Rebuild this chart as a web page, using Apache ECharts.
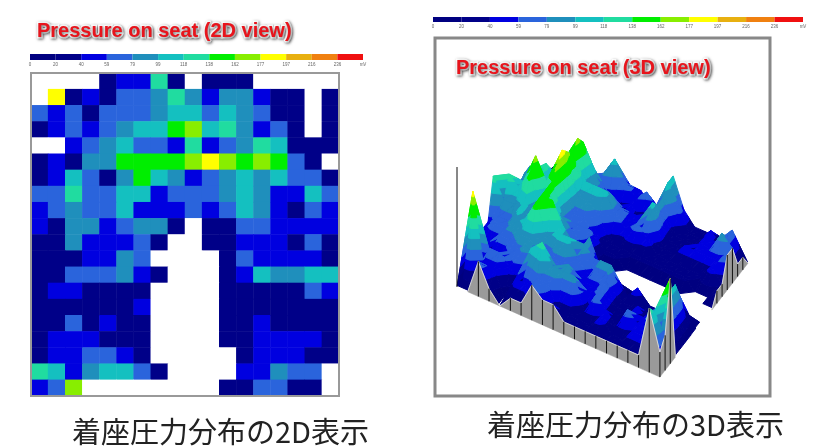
<!DOCTYPE html>
<html><head><meta charset="utf-8">
<script src="https://cdn.jsdelivr.net/npm/echarts@6/dist/echarts.min.js"></script>
<style>html,body{margin:0;padding:0;background:#fff}#c{width:820px;height:446px}</style>
</head><body><div id="c"></div>
<script>
// Pressure read from each seat cell (mV); 0 = no contact (white)
const pressure = [
[0,0,0,0,25,50,50,128,25,0,25,25,25,0,0,0,0,0],
[0,187,25,50,25,70,70,90,128,90,50,90,90,50,25,25,0,25],
[70,50,70,25,70,70,70,90,108,108,70,108,90,70,25,25,0,25],
[25,50,70,50,70,90,108,108,150,170,108,128,90,50,70,25,0,25],
[0,0,50,70,90,108,70,70,50,128,50,70,90,128,108,25,25,25],
[25,50,25,90,90,150,150,150,150,170,187,170,150,170,150,70,25,0],
[25,50,108,70,25,90,150,108,90,50,70,90,108,90,108,70,70,25],
[70,70,128,70,70,108,108,50,70,70,70,90,108,90,50,50,108,70],
[50,70,90,70,70,108,50,50,50,70,50,70,108,90,50,25,70,50],
[50,25,90,90,50,70,90,90,25,0,25,25,70,70,50,50,50,50],
[25,25,90,50,50,50,70,25,0,0,25,25,50,50,50,25,70,25],
[25,25,25,50,50,90,70,0,0,0,0,25,70,50,50,50,50,25],
[25,25,70,70,70,90,50,25,0,0,0,25,50,108,90,90,108,108],
[25,50,50,25,25,25,25,0,0,0,0,25,25,25,25,25,70,50],
[25,25,25,25,25,25,50,0,0,0,0,25,25,25,25,25,25,25],
[25,25,70,25,50,25,25,0,0,0,0,25,25,50,25,25,25,25],
[25,50,50,50,25,25,25,0,0,0,0,25,25,50,50,50,50,25],
[25,50,50,70,70,50,25,0,0,0,0,0,25,50,50,50,25,25],
[128,108,50,90,108,108,70,25,0,0,0,0,50,50,90,70,70,0],
[50,70,170,0,0,0,0,0,0,0,0,25,25,70,70,25,25,0]
];
const tickLabels = ['0','20','40','59','79','99','118','138','162','177','197','216','236','mV'];
const bandEdges = [0,20,40,59,79,99,118,138,162,177,197,216,236,256];
const bandColors = ['#000080','#000088','#0000e0','#2a64dc','#1f8fbc','#14c0c0','#20dca0','#00ee00','#88ee00','#ffff00','#e8b010','#f08010','#f01010'];
const noContactBelow = 3;

const rows = pressure.length, cols = pressure[0].length;
const rowNames = pressure.map((_, i) => 'r' + i);
const colNames = pressure[0].map((_, i) => 'c' + i);
const heatData = [];
pressure.forEach((r, y) => r.forEach((v, x) => heatData.push([x, y, v])));

// oblique view used for the 3D panel: (row, col, value) -> panel units
function project(row, col, value) {
  return [22 + 10.68 * row + 5.18 * col, 249 + 4.74 * row - 6.7 * col - 0.5 * value];
}
function clip(poly, level, keepAbove) {
  const out = [];
  for (let i = 0; i < poly.length; i++) {
    const a = poly[i], b = poly[(i + 1) % poly.length];
    const ia = keepAbove ? a[2] >= level : a[2] <= level;
    const ib = keepAbove ? b[2] >= level : b[2] <= level;
    if (ia) out.push(a);
    if (ia !== ib) {
      const t = (level - a[2]) / (b[2] - a[2]);
      out.push([a[0] + t * (b[0] - a[0]), a[1] + t * (b[1] - a[1]), level]);
    }
  }
  return out;
}
const quads = [];
for (let c = cols - 2; c >= 0; c--) for (let r = 0; r < rows - 1; r++) quads.push([r, c]);

function surfaceItem(params, api) {
  const r = api.value(0), c = api.value(1);
  const P = (a, b) => [a, b, pressure[a][b]];
  const tris = [[P(r, c), P(r + 1, c), P(r + 1, c + 1)], [P(r, c), P(r + 1, c + 1), P(r, c + 1)]];
  const children = [];
  tris.forEach(tri => {
    bandColors.forEach((color, i) => {
      const lo = i === 0 ? noContactBelow : bandEdges[i], hi = bandEdges[i + 1];
      let poly = clip(tri, lo, true);
      if (poly.length > 2) poly = clip(poly, hi, false);
      if (poly.length > 2) children.push({
        type: 'polygon', silent: true,
        shape: { points: poly.map(p => api.coord(project(p[0], p[1], p[2]))) },
        style: { fill: color, stroke: color, lineWidth: 1, lineJoin: 'round' }
      });
    });
  });
  return { type: 'group', children };
}
// skirts along the two front edges
const skirtEdges = [];
for (let r = 0; r < rows - 1; r++) skirtEdges.push([r, 0, r + 1, 0]);
for (let c = 0; c < cols - 1; c++) skirtEdges.push([rows - 1, c, rows - 1, c + 1]);
function skirtItem(params, api) {
  const a = [api.value(0), api.value(1)], b = [api.value(2), api.value(3)];
  const va = pressure[a[0]][a[1]], vb = pressure[b[0]][b[1]];
  const pa0 = api.coord(project(a[0], a[1], 0)), pb0 = api.coord(project(b[0], b[1], 0));
  const pa = api.coord(project(a[0], a[1], va)), pb = api.coord(project(b[0], b[1], vb));
  const children = [];
  if (va > 0 || vb > 0) children.push({ type: 'polygon', silent: true, shape: { points: [pa0, pb0, pb, pa] },
    style: { fill: '#9a9a9a', stroke: '#9a9a9a', lineWidth: 0.5 } });
  if (va > 0 || vb > 0) children.push({ type: 'line', silent: true, shape: { x1: pa[0], y1: pa[1], x2: pb[0], y2: pb[1] }, style: { stroke: '#e8e8e8', lineWidth: 0.8 } });
  if (va > 0) children.push({ type: 'line', silent: true, shape: { x1: pa0[0], y1: pa0[1], x2: pa[0], y2: pa[1] }, style: { stroke: '#111', lineWidth: 1 } });
  return { type: 'group', children };
}
function axisItem(params, api) {
  const p0 = api.coord(project(0, 0, 0)), p1 = api.coord(project(0, 0, api.value(0)));
  return { type: 'line', silent: true, shape: { x1: p0[0], y1: p0[1], x2: p1[0], y2: p1[1] }, style: { stroke: '#111', lineWidth: 1 } };
}
function barItem(params, api) {
  const i = api.value(0), a = api.coord([i, 1]), b = api.coord([i + 1, 0]);
  return { type: 'rect', silent: true, shape: { x: a[0], y: a[1], width: b[0] - a[0], height: b[1] - a[1] },
    style: { fill: bandColors[i] } };
}
const barData = bandColors.map((_, i) => [i]);
const barX = g => ({ type: 'value', gridIndex: g, min: 0, max: 13, interval: 1,
  axisLine: { show: false }, axisTick: { show: false }, splitLine: { show: false },
  axisLabel: { fontSize: 4.5, color: '#666', margin: 2, fontFamily: 'Liberation Sans', formatter: v => tickLabels[v] } });
const barY = g => ({ type: 'value', gridIndex: g, min: 0, max: 1, show: false });
const titleStyle = { fontFamily: 'Liberation Sans', fontWeight: 'bold', fontSize: 20, color: '#e8141c',
  textBorderColor: '#fff', textBorderWidth: 3, textShadowColor: 'rgba(0,0,0,0.55)', textShadowBlur: 3, textShadowOffsetX: 1, textShadowOffsetY: 1 };
const capStyle = { fontFamily: 'Noto Sans CJK JP', fontWeight: 'normal', fontSize: 29, color: '#222' };

const chart = echarts.init(document.getElementById('c'), null, { renderer: 'canvas' });
chart.setOption({
  animation: false, backgroundColor: '#fff',
  title: [
    { text: 'Pressure on seat (2D view)', left: 37, top: 21, padding: 0, textStyle: titleStyle },
    { text: 'Pressure on seat (3D view)', left: 456, top: 58, padding: 0, textStyle: titleStyle, z: 10 },
    { text: '着座圧力分布の2D表示', left: 72, top: 417, padding: 0, textStyle: capStyle },
    { text: '着座圧力分布の3D表示', left: 487, top: 410, padding: 0, textStyle: capStyle }
  ],
  grid: [
    { left: 31, top: 73, width: 308, height: 323, show: true, borderColor: '#999', borderWidth: 2, backgroundColor: 'transparent', z: 6 },
    { left: 30, top: 54, width: 333, height: 6 },
    { left: 433, top: 17, width: 370, height: 5 },
    { left: 435, top: 38, width: 335, height: 358, show: true, borderColor: '#888', borderWidth: 3, backgroundColor: '#fff' }
  ],
  xAxis: [
    { type: 'category', gridIndex: 0, data: colNames, show: false },
    barX(1), barX(2),
    { type: 'value', gridIndex: 3, min: 0, max: 335, show: false }
  ],
  yAxis: [
    { type: 'category', gridIndex: 0, data: rowNames, inverse: true, show: false },
    barY(1), barY(2),
    { type: 'value', gridIndex: 3, min: 0, max: 358, inverse: true, show: false }
  ],
  visualMap: [{
    show: false, type: 'piecewise', seriesIndex: 0, dimension: 2,
    pieces: [{ lt: noContactBelow, color: '#ffffff' }].concat(bandColors.map((color, i) => ({ gte: i === 0 ? noContactBelow : bandEdges[i], lt: bandEdges[i + 1], color })))
  }],
  series: [
    { type: 'heatmap', xAxisIndex: 0, yAxisIndex: 0, data: heatData, silent: true, progressive: 0 },
    { type: 'custom', xAxisIndex: 1, yAxisIndex: 1, data: barData, renderItem: barItem, silent: true, clip: false },
    { type: 'custom', xAxisIndex: 2, yAxisIndex: 2, data: barData, renderItem: barItem, silent: true, clip: false },
    { type: 'custom', xAxisIndex: 3, yAxisIndex: 3, data: quads, renderItem: surfaceItem, silent: true, clip: false, z: 3, progressive: 0 },
    { type: 'custom', xAxisIndex: 3, yAxisIndex: 3, data: skirtEdges, renderItem: skirtItem, silent: true, clip: false, z: 4, progressive: 0 },
    { type: 'custom', xAxisIndex: 3, yAxisIndex: 3, data: [[240]], renderItem: axisItem, silent: true, clip: false, z: 5 }
  ]
});
</script></body></html>
